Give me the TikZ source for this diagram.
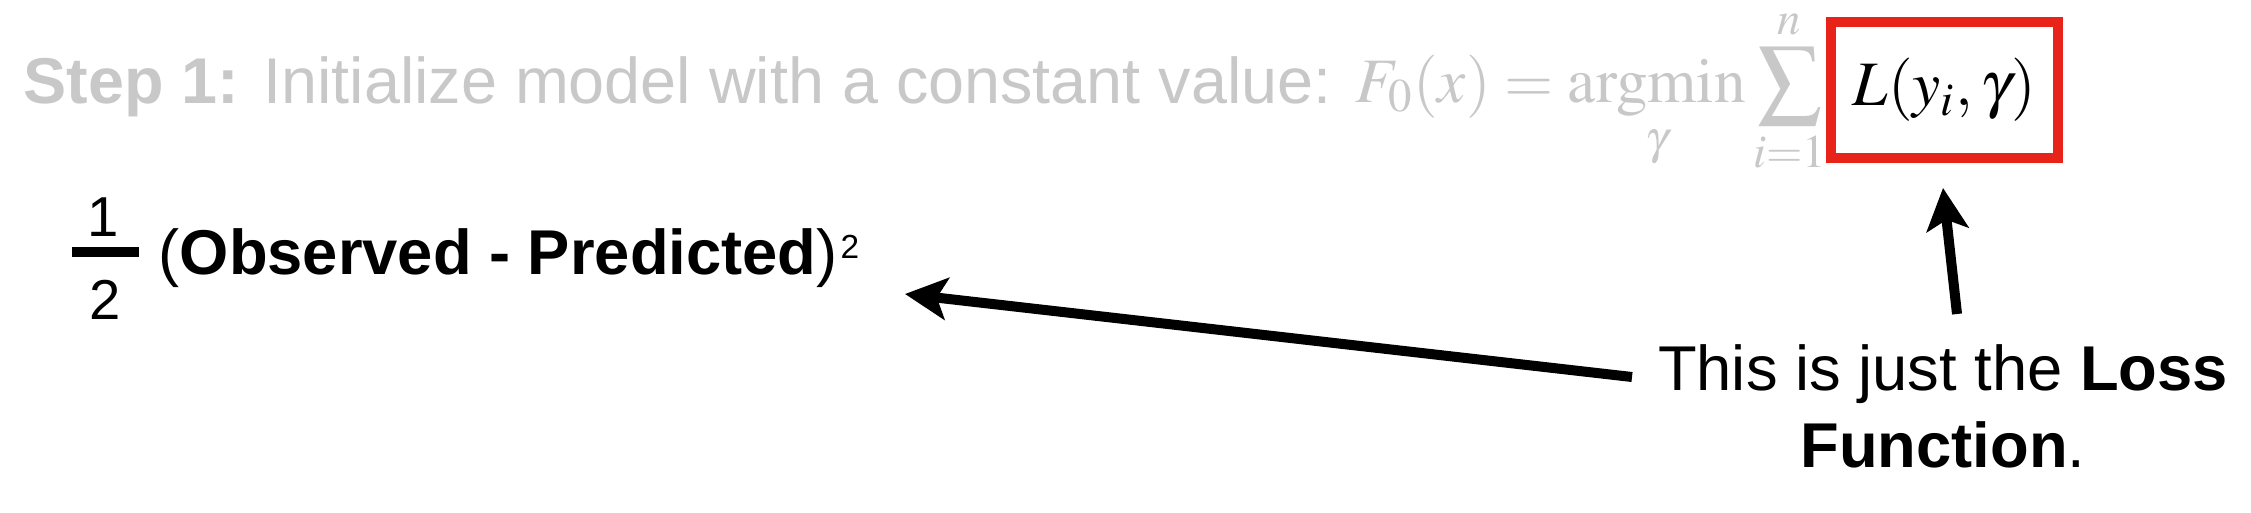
\documentclass[tikz,border=0pt]{standalone}
\usepackage{amsmath}
\usepackage{mathptmx}
\usepackage[no-math]{fontspec}
\setmainfont{Liberation Sans}
\usepackage{xcolor}
\usepackage{tikz}
\usetikzlibrary{arrows.meta}
\definecolor{faded}{RGB}{200,200,200}
\definecolor{lossred}{RGB}{232,35,26}

\begin{document}
\begin{tikzpicture}[x=0.01cm, y=-0.01cm,
    every node/.style={inner sep=0pt, font=\fontsize{18}{21.9}\selectfont},
    pointer/.style={line width=0.1cm, -{Stealth[length=0.42cm, width=0.42cm, inset=0.1cm]}},
    lossbox/.style={draw=lossred, line width=0.1cm, minimum width=2.27cm, minimum height=1.36cm}]
		\useasboundingbox (0,0) rectangle (2251,512);
		\node[anchor=base west, text=faded, font=\fontsize{18.4}{22}\selectfont] (step) at (23,103) {\textbf{Step 1:} Initialize model with a constant value:};
		\node[anchor=base west, text=faded] (init) at (1355,102) {$\displaystyle F_0(x)=\operatorname*{argmin}_{\gamma}\sum_{i=1}^{n}$};
		\node[lossbox] (loss) at (1944.5,90) {$L(y_i,\gamma)$\hspace{0.28cm}};
		\node[font=\fontsize{16}{19}\selectfont] (num) at (103,217) {1};
		\node[font=\fontsize{16}{19}\selectfont] (den) at (105,300) {2};
		\draw[line width=0.1cm] (72,252) -- (139,252);
		\node[anchor=base west] (obs) at (158,274) {(\textbf{Observed - Predicted})\hspace{0.03cm}\raisebox{0.15cm}{\fontsize{9.5}{10}\selectfont 2}};
		\node[align=center] (note) at (1943,406) {This is just the \textbf{Loss}\\\textbf{Function}.};
		\coordinate (tailL) at (1632,377);
		\coordinate (headL) at (905,294);
		\draw[pointer] (tailL) -- (headL);
		\coordinate (tailU) at (1957,314);
		\coordinate (headU) at (1943,188);
		\draw[pointer] (tailU) -- (headU);
	\end{tikzpicture}
\end{document}
